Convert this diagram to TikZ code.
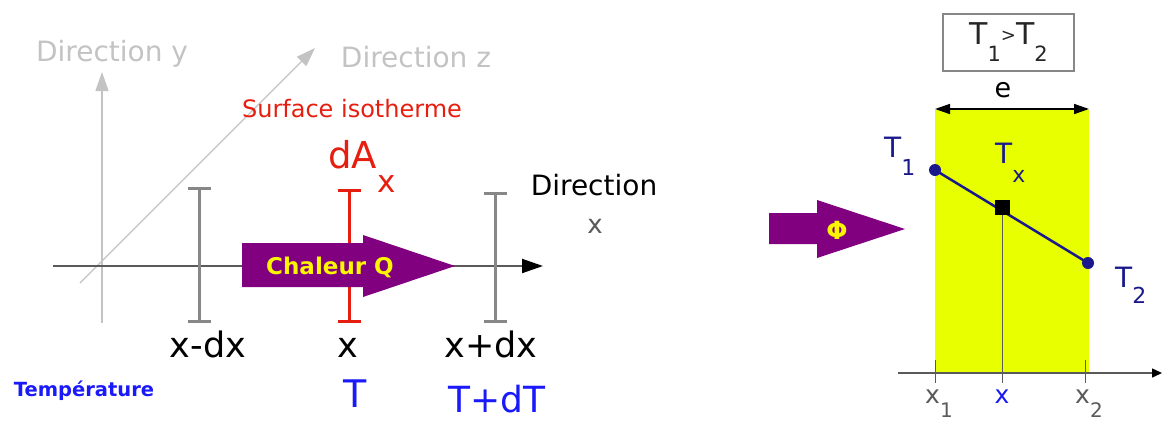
\documentclass[tikz,border=0pt]{standalone}
\usepackage{fontspec}
\setmainfont{DejaVu Sans}
\usetikzlibrary{arrows.meta}
\definecolor{lightaxis}{RGB}{195,195,195}
\definecolor{darkaxis}{RGB}{90,90,90}
\definecolor{bargray}{RGB}{135,135,135}
\definecolor{isored}{RGB}{230,30,15}
\definecolor{tblue}{RGB}{25,25,250}
\definecolor{tnavy}{RGB}{25,25,140}
\definecolor{heatpurple}{RGB}{128,0,128}
\definecolor{heatyellow}{RGB}{250,245,0}
\definecolor{slabyellow}{RGB}{232,255,0}
\newcommand{\fsz}[1]{\fontsize{#1}{#1}\selectfont}
\newcommand{\lowidx}[3]{\raisebox{-#1pt}{\fsz{#2}#3}}
\begin{document}
\begin{tikzpicture}[x=1pt,y=-1pt,
  lbl/.style={inner sep=0pt,anchor=base},
  grayaxis/.style={draw=lightaxis,line width=1.2pt,-{Triangle[length=19pt,width=13pt]}},
  ibar/.style={line width=3pt,{Bar[width=23pt]}-{Bar[width=23pt]}},
  dot/.style={circle,fill=tnavy,inner sep=0pt,minimum size=12pt}]
\useasboundingbox (0,0) rectangle (1162,421);

% left: slice between x-dx and x+dx
\coordinate (ybot) at (102,323);
\coordinate (ytop) at (102,72);
\coordinate (zbot) at (80,283);
\coordinate (ztop) at (315,48);
\coordinate (xstart) at (53,266);
\coordinate (xend) at (543,266);
\draw[grayaxis] (ybot) -- (ytop);
\draw[grayaxis] (zbot) -- (ztop);
\draw[darkaxis,line width=2pt,-{Triangle[length=21pt,width=14pt,color=black]}] (xstart) -- (xend);
\node[lbl,text=lightaxis] (diry) at (112,61) {\fsz{28}Direction y};
\node[lbl,text=lightaxis] (dirz) at (416,67) {\fsz{28}Direction z};

\coordinate (b1t) at (199,187);
\coordinate (b1b) at (199,323);
\coordinate (b2t) at (349,189);
\coordinate (b2b) at (349,323);
\coordinate (b3t) at (495,192);
\coordinate (b3b) at (495,323);
\draw[ibar,bargray] (b1t) -- (b1b);
\draw[ibar,isored] (b2t) -- (b2b);
\draw[ibar,bargray] (b3t) -- (b3b);

\fill[heatpurple] (242,243) -- (363,243) -- (363,235) -- (455,266) -- (363,297) -- (363,287) -- (242,287) -- cycle;
\node[lbl,text=heatyellow] (chaleur) at (330,274) {\fsz{23}\bfseries Chaleur Q};

\node[lbl,text=isored] (surf) at (352,117) {\fsz{24}Surface isotherme};
\node[lbl,text=isored,anchor=base west] (dax) at (328,168) {\fsz{37}dA\lowidx{24}{31}{x}};
\node[lbl] (dirx) at (594,195) {\fsz{28}Direction};
\node[lbl,text=darkaxis] (dirxx) at (595,233) {\fsz{26}x};

\node[lbl] (xm) at (208,357) {\fsz{35}x-dx};
\node[lbl] (x0) at (348,357) {\fsz{35}x};
\node[lbl] (xp) at (491,357) {\fsz{35}x+dx};
\node[lbl,text=tblue] (temp) at (84,396) {\fsz{19.5}\bfseries Température};
\node[lbl,text=tblue] (t0) at (355,407) {\fsz{38}T};
\node[lbl,text=tblue] (tp) at (497,412) {\fsz{36}T+dT};

% right: plane wall
\fill[slabyellow] (935,110) rectangle (1089,373);
\coordinate (x1t) at (935,360);
\coordinate (x1b) at (935,383);
\coordinate (x2t) at (1085,360);
\coordinate (x2b) at (1085,383);
\coordinate (xxb) at (1002,383);
\coordinate (wstart) at (898,373);
\coordinate (wend) at (1162,373);
\draw[darkaxis,line width=1pt] (x1t) -- (x1b);
\draw[darkaxis,line width=1pt] (x2t) -- (x2b);
\draw[darkaxis,line width=1.5pt,-{Triangle[length=10pt,width=9pt,color=black]}] (wstart) -- (wend);

\node[dot] (t1) at (935,170) {};
\node[dot] (t2) at (1088,263) {};
\node[rectangle,fill=black,inner sep=0pt,minimum size=15pt] (tx) at (1002,207) {};
\draw[darkaxis,line width=1pt] (tx.center) -- (xxb);
\draw[tnavy,line width=2.5pt] (t1.center) -- (t2.center);
\node[rectangle,fill=black,inner sep=0pt,minimum size=15pt] at (tx) {};

\coordinate (ea) at (935,109);
\coordinate (eb) at (1089,109);
\draw[line width=1.5pt,{Triangle[length=15pt,width=10pt]}-{Triangle[length=15pt,width=10pt]}] (ea) -- (eb);
\node[lbl] (e) at (1003,97) {\fsz{27}e};
\node[draw=bargray,line width=1.2pt,inner sep=0pt,minimum width=131pt,minimum height=57pt,text=black!85] (cmp) at (1008.5,42.5)
  {\fsz{30}T\lowidx{17}{21}{1}\raisebox{3pt}{\fsz{18}>}T\lowidx{17}{21}{2}};

\node[lbl,anchor=base west,text=tnavy] (t1l) at (884,157) {\fsz{28}T\lowidx{18}{22}{1}};
\node[lbl,anchor=base west,text=tnavy] (txl) at (995,163) {\fsz{28}T\lowidx{19}{22}{x}};
\node[lbl,anchor=base west,text=tnavy] (t2l) at (1115,287) {\fsz{28}T\lowidx{16}{22}{2}};

\node[lbl,anchor=base west,text=darkaxis] (x1l) at (925,403) {\fsz{25}x\lowidx{14}{20}{1}};
\node[lbl,text=tblue] (xl) at (1002,403) {\fsz{25}x};
\node[lbl,anchor=base west,text=darkaxis] (x2l) at (1075,403) {\fsz{25}x\lowidx{14}{20}{2}};

\fill[heatpurple] (769,213) -- (817,213) -- (817,200) -- (905,229) -- (817,258) -- (817,244) -- (769,244) -- cycle;
\node[text=heatyellow,inner sep=0pt] (phi) at (837,230) {\fsz{25}\bfseries Φ};
\end{tikzpicture}
\end{document}
